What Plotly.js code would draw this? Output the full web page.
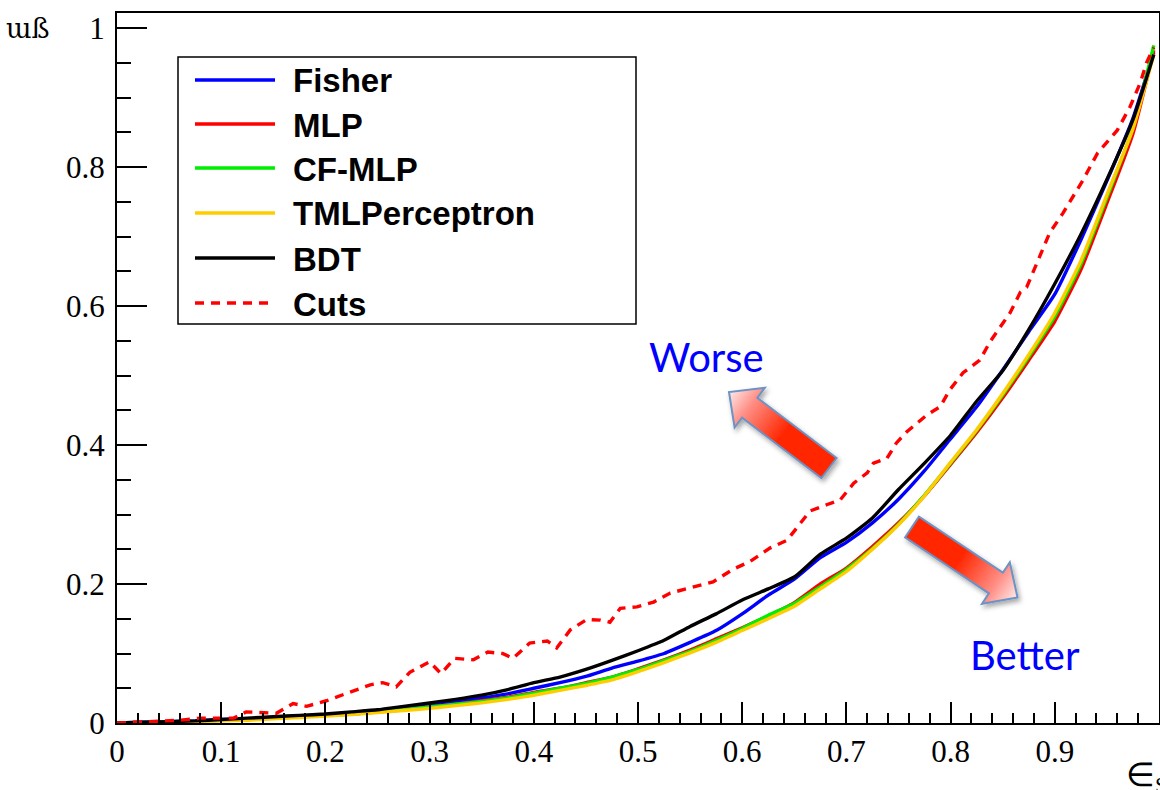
<!DOCTYPE html>
<html>
<head>
<meta charset="utf-8">
<script src="https://cdn.plot.ly/plotly-3.0.1.min.js"></script>
<style>html,body{margin:0;padding:0;background:#fff;}#chart{width:1160px;height:790px;}</style>
</head>
<body>
<div id="chart"></div>
<script>
// ---------------- data ----------------
const seriesNames = ["Fisher", "MLP", "CF-MLP", "TMLPerceptron", "BDT", "Cuts"];
const seriesColors = ["#0000ff", "#ff0000", "#00ee00", "#ffcc00", "#000000", "#ff0000"];

const effS = [0, 0.025, 0.05, 0.075, 0.1, 0.125, 0.15, 0.175, 0.2, 0.225, 0.25, 0.275, 0.3, 0.325, 0.35, 0.375,
  0.4, 0.425, 0.45, 0.475, 0.5, 0.525, 0.55, 0.575, 0.6, 0.625, 0.65, 0.675, 0.7, 0.725, 0.75, 0.775,
  0.8, 0.825, 0.85, 0.875, 0.9, 0.925, 0.95, 0.975, 0.995];

const fisherB = [0, 0.001, 0.002, 0.003, 0.005, 0.006, 0.008, 0.010, 0.012, 0.015, 0.018, 0.022, 0.026, 0.031, 0.036, 0.042,
  0.050, 0.058, 0.067, 0.079, 0.089, 0.100, 0.116, 0.133, 0.157, 0.184, 0.207, 0.238, 0.260, 0.288, 0.322, 0.363,
  0.409, 0.455, 0.508, 0.563, 0.617, 0.695, 0.780, 0.870, 0.965];

const mlpB = [0, 0.0005, 0.001, 0.002, 0.004, 0.005, 0.007, 0.009, 0.011, 0.013, 0.016, 0.019, 0.023, 0.027, 0.032, 0.037,
  0.044, 0.050, 0.058, 0.066, 0.078, 0.091, 0.105, 0.121, 0.137, 0.154, 0.173, 0.200, 0.223, 0.254, 0.288, 0.327,
  0.372, 0.418, 0.468, 0.522, 0.578, 0.652, 0.748, 0.848, 0.968];

const cfmlpB = [0, 0.0005, 0.001, 0.002, 0.004, 0.005, 0.007, 0.009, 0.011, 0.013, 0.016, 0.019, 0.023, 0.027, 0.031, 0.036,
  0.043, 0.050, 0.057, 0.066, 0.077, 0.090, 0.103, 0.119, 0.136, 0.155, 0.172, 0.196, 0.221, 0.251, 0.286, 0.328,
  0.374, 0.421, 0.472, 0.527, 0.585, 0.660, 0.756, 0.856, 0.975];

const tmlpB = [0, 0.0005, 0.001, 0.002, 0.003, 0.004, 0.006, 0.008, 0.010, 0.012, 0.015, 0.018, 0.021, 0.025, 0.029, 0.034,
  0.040, 0.047, 0.054, 0.062, 0.074, 0.087, 0.101, 0.116, 0.133, 0.150, 0.168, 0.193, 0.218, 0.250, 0.285, 0.327,
  0.375, 0.422, 0.474, 0.530, 0.590, 0.665, 0.760, 0.855, 0.962];

const bdtB = [0, 0.001, 0.002, 0.003, 0.005, 0.007, 0.009, 0.011, 0.013, 0.016, 0.019, 0.024, 0.029, 0.034, 0.040, 0.048,
  0.058, 0.066, 0.077, 0.090, 0.104, 0.119, 0.139, 0.157, 0.177, 0.193, 0.210, 0.243, 0.266, 0.295, 0.336, 0.374,
  0.414, 0.463, 0.507, 0.566, 0.632, 0.703, 0.782, 0.868, 0.962];

const cutsS = [0, 0.02, 0.04, 0.06, 0.08, 0.10, 0.112, 0.124, 0.14, 0.153, 0.169, 0.182, 0.201, 0.224, 0.243, 0.255,
  0.268, 0.281, 0.3, 0.311, 0.324, 0.342, 0.356, 0.370, 0.380, 0.396, 0.413, 0.422, 0.435, 0.451, 0.464, 0.473,
  0.483, 0.499, 0.515, 0.531, 0.557, 0.572, 0.591, 0.607, 0.627, 0.643, 0.652, 0.665, 0.681, 0.694, 0.707, 0.72,
  0.726, 0.739, 0.748, 0.758, 0.777, 0.79, 0.799, 0.812, 0.828, 0.838, 0.857, 0.867, 0.873, 0.883, 0.895, 0.908,
  0.927, 0.941, 0.95, 0.96, 0.972, 0.982, 0.988, 0.995];
const cutsB = [0, 0.001, 0.002, 0.004, 0.007, 0.007, 0.007, 0.016, 0.015, 0.014, 0.028, 0.024, 0.032, 0.044, 0.055, 0.058,
  0.052, 0.073, 0.088, 0.071, 0.093, 0.091, 0.102, 0.100, 0.093, 0.115, 0.118, 0.108, 0.134, 0.149, 0.148, 0.145,
  0.165, 0.167, 0.174, 0.187, 0.197, 0.203, 0.221, 0.232, 0.252, 0.263, 0.280, 0.305, 0.314, 0.321, 0.345, 0.360,
  0.374, 0.381, 0.403, 0.419, 0.443, 0.455, 0.479, 0.504, 0.522, 0.549, 0.590, 0.620, 0.627, 0.662, 0.705, 0.734,
  0.781, 0.820, 0.835, 0.853, 0.886, 0.921, 0.950, 0.972];

const annotWorse = "Worse";
const annotBetter = "Better";
const xTitle = "∈<sub>S</sub>";
const yTitle = "ɯß";

// ---------------- geometry ----------------
const W = 1160, H = 790;
const M = {l: 117, r: 1, t: 13, b: 67};
const PW = W - M.l - M.r, PH = H - M.t - M.b;
const px2paper = p => (p - M.l) / PW;
const py2paper = p => (H - M.b - p) / PH;

const SERIF = "'Liberation Serif', 'Times New Roman', serif";
const SANS = "'Liberation Sans', Arial, sans-serif";

const traces = [
  {x: effS, y: fisherB, dash: "solid"},
  {x: effS, y: mlpB, dash: "solid"},
  {x: effS, y: cfmlpB, dash: "solid"},
  {x: effS, y: tmlpB, dash: "solid"},
  {x: effS, y: bdtB, dash: "solid"},
  {x: cutsS, y: cutsB, dash: "9px,7px"}
].map((s, i) => ({
  type: "scatter", mode: "lines", x: s.x, y: s.y, name: seriesNames[i],
  line: {color: seriesColors[i], width: 3.4, dash: s.dash,
         shape: s.dash === "solid" ? "spline" : "linear", smoothing: 0.5},
  hoverinfo: "skip", showlegend: false
}));

// ---------------- legend (custom box) ----------------
const shapes = [];
const annotations = [];
const legBox = {x0: 178, y0: 57, x1: 636, y1: 324};
shapes.push({type: "rect", xref: "paper", yref: "paper",
  x0: px2paper(legBox.x0), x1: px2paper(legBox.x1), y0: py2paper(legBox.y1), y1: py2paper(legBox.y0),
  line: {color: "#000", width: 1.5}, fillcolor: "#fff", layer: "above"});
const legRows = [80, 124, 168, 213, 258, 303];
seriesNames.forEach((n, i) => {
  const yy = py2paper(legRows[i]);
  shapes.push({type: "line", xref: "paper", yref: "paper",
    x0: px2paper(195), x1: px2paper(275), y0: yy, y1: yy,
    line: {color: seriesColors[i], width: 3.4, dash: traces[i].line.dash}, layer: "above"});
  annotations.push({xref: "paper", yref: "paper", x: px2paper(291), y: py2paper(legRows[i] + 1),
    xanchor: "left", yanchor: "middle", showarrow: false, text: "<b>" + n + "</b>",
    font: {family: SANS, size: 33, color: "#000"}});
});

annotations.push({xref: "paper", yref: "paper", x: px2paper(706), y: py2paper(357), xanchor: "center", yanchor: "middle",
  showarrow: false, text: annotWorse, font: {family: "Lato, 'Open Sans', sans-serif", size: 40, color: "#0000ff"}});
annotations.push({xref: "paper", yref: "paper", x: px2paper(1025), y: py2paper(655), xanchor: "center", yanchor: "middle",
  showarrow: false, text: annotBetter, font: {family: "Lato, 'Open Sans', sans-serif", size: 40, color: "#0000ff"}});
annotations.push({xref: "paper", yref: "paper", x: px2paper(1124), y: py2paper(778), xanchor: "left", yanchor: "middle",
  showarrow: false, text: xTitle, font: {family: SERIF, size: 33, color: "#000"}});
annotations.push({xref: "paper", yref: "paper", x: px2paper(28), y: py2paper(29), xanchor: "center", yanchor: "middle",
  showarrow: false, text: yTitle, font: {family: "'DejaVu Serif', 'Liberation Serif', serif", size: 27, color: "#000"}});

// ---------------- block arrows as an svg overlay ----------------
function arrowPoly(tail, tip, bw, hw, hl) {
  const dx = tip[0] - tail[0], dy = tip[1] - tail[1];
  const L = Math.hypot(dx, dy), ux = dx / L, uy = dy / L, nx = -uy, ny = ux;
  const nk = [tip[0] - ux * hl, tip[1] - uy * hl];
  const P = (b, s) => [b[0] + nx * s, b[1] + ny * s];
  return [P(tail, bw / 2), P(nk, bw / 2), P(nk, hw / 2), tip, P(nk, -hw / 2), P(nk, -bw / 2), P(tail, -bw / 2)];
}
function arrowSvg(id, tail, tip) {
  const pts = arrowPoly(tail, tip, 25, 50, 26).map(p => p[0].toFixed(1) + "," + p[1].toFixed(1)).join(" ");
  return `<linearGradient id="g${id}" gradientUnits="userSpaceOnUse" x1="${tail[0]}" y1="${tail[1]}" x2="${tip[0]}" y2="${tip[1]}">
<stop offset="0" stop-color="#ff2600"/><stop offset="0.45" stop-color="#ff2600"/><stop offset="0.8" stop-color="#ff8f86"/><stop offset="1" stop-color="#ffeaea"/></linearGradient>
<polygon points="${pts}" fill="url(#g${id})" stroke="#6d92c4" stroke-width="2" stroke-linejoin="miter" filter="url(#sh)"/>`;
}
const svg = `<svg xmlns="http://www.w3.org/2000/svg" width="${W}" height="${H}" viewBox="0 0 ${W} ${H}">
<defs><filter id="sh" x="-20%" y="-20%" width="150%" height="150%"><feDropShadow dx="2" dy="3" stdDeviation="2.5" flood-color="#000" flood-opacity="0.35"/></filter></defs>
${arrowSvg("a", [829, 468], [729, 392])}
${arrowSvg("b", [912, 527], [1017.5, 597.5])}
</svg>`;
const images = [{
  source: "data:image/svg+xml;charset=utf-8," + encodeURIComponent(svg),
  xref: "paper", yref: "paper", x: -M.l / PW, y: 1 + M.t / PH, sizex: W / PW, sizey: H / PH,
  xanchor: "left", yanchor: "top", sizing: "stretch", layer: "above"
}];

const tickFont = {family: SERIF, size: 31, color: "#000"};
const layout = {
  width: W, height: H, margin: M, paper_bgcolor: "#fff", plot_bgcolor: "#fff", showlegend: false,
  xaxis: {range: [0, 1], tickmode: "linear", tick0: 0, dtick: 0.1, ticks: "inside", ticklen: 21, tickwidth: 2,
    tickcolor: "#000", showline: true, linewidth: 2, linecolor: "#000", mirror: true, showgrid: false, zeroline: false,
    tickfont: tickFont, minor: {dtick: 0.02, ticks: "inside", ticklen: 10, tickwidth: 2, tickcolor: "#000", showgrid: false}},
  yaxis: {range: [0, 1.0216], tickmode: "linear", tick0: 0, dtick: 0.2, ticks: "inside", ticklen: 30, tickwidth: 2,
    tickcolor: "#000", showline: true, linewidth: 2, linecolor: "#000", mirror: true, showgrid: false, zeroline: false,
    tickfont: tickFont, ticklabelstandoff: 4,
    minor: {dtick: 0.05, ticks: "inside", ticklen: 14, tickwidth: 2, tickcolor: "#000", showgrid: false}},
  shapes: shapes, annotations: annotations, images: images
};
Plotly.newPlot("chart", traces, layout, {staticPlot: true, displayModeBar: false});
</script>
</body>
</html>
